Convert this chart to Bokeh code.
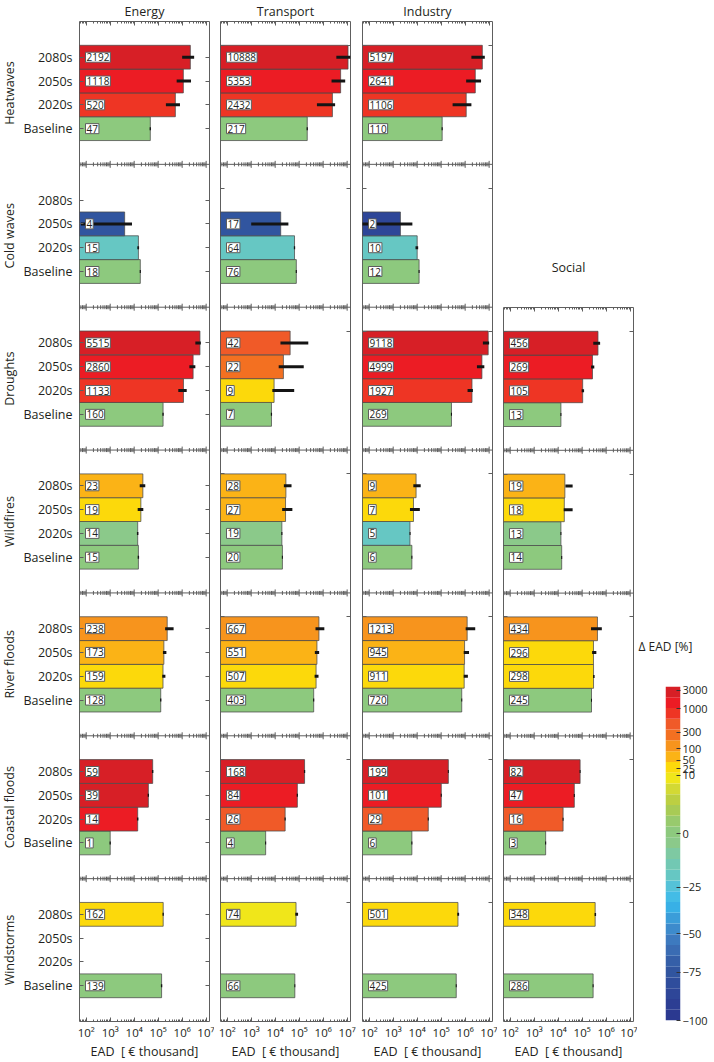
import math
import numpy as np
from bokeh.plotting import figure
from bokeh.models import (ColumnDataSource, FixedTicker, LinearAxis, LogAxis,
                          Range1d, Span, Spacer)
from bokeh.layouts import row, column
from bokeh.embed import file_html
from bokeh.resources import INLINE
from bokeh.core.properties import value
from bokeh.transform import linear_cmap

# ---------------- data ----------------
hazards = ["Heatwaves", "Cold waves", "Droughts", "Wildfires",
           "River floods", "Coastal floods", "Windstorms"]
social_hazards = ["Droughts", "Wildfires", "River floods", "Coastal floods", "Windstorms"]
periods = ["Baseline", "2020s", "2050s", "2080s"]
sectors = ["Energy", "Transport", "Industry", "Social"]
x_tick_values = [1e2, 1e3, 1e4, 1e5, 1e6, 1e7]
x_tick_labels = ["10\u00b2", "10\u00b3", "10\u2074", "10\u2075", "10\u2076", "10\u2077"]

# EAD (label values, € million) per hazard: Baseline, 2020s, 2050s, 2080s
energy_ead = [[47, 520, 1118, 2192], [18, 15, 4, None], [160, 1133, 2860, 5515],
              [15, 14, 19, 23], [128, 159, 173, 238], [1, 14, 39, 59],
              [139, None, None, 162]]
energy_lo = [[44, 210, 590, 1000], [17, 13.5, 0.06, None], [150, 690, 2000, 3550],
             [14, 13, 14, 17], [120, 148, 158, 195], [0.94, 13, 36.5, 55],
             [130, None, None, 152]]
energy_hi = [[50, 810, 2340, 3160], [19, 16, 8.1, None], [170, 1550, 3550, 6000],
             [16, 15, 24, 29], [136, 200, 220, 440], [1.06, 15, 41.5, 63],
             [148, None, None, 172]]

transport_ead = [[217, 2432, 5353, 10888], [76, 64, 17, None], [7, 9, 22, 42],
                 [20, 19, 27, 28], [403, 507, 551, 667], [4, 26, 84, 168],
                 [66, None, None, 74]]
transport_lo = [[204, 550, 2240, 3550], [72, 60, 1, None], [6.6, 7.6, 14, 16.6],
                [19, 18, 19.5, 23], [380, 440, 450, 480], [3.8, 24.5, 79, 158],
                [63, None, None, 69]]
transport_hi = [[230, 3150, 8300, 14000], [80, 68, 35.5, None], [7.4, 62, 155, 240],
                [21, 20, 52, 48], [425, 640, 680, 1120], [4.2, 27.5, 89, 178],
                [69, None, None, 90]]

industry_ead = [[110, 1106, 2641, 5197], [12, 10, 2, None], [269, 1927, 4999, 9118],
                [6, 5, 7, 9], [720, 911, 945, 1213], [6, 29, 101, 199],
                [425, None, None, 501]]
industry_lo = [[104, 300, 1100, 1820], [11.4, 8.5, 0.05, None], [255, 1260, 3100, 5500],
               [5.7, 4.8, 5, 6.9], [690, 870, 870, 1050], [5.7, 27.5, 96, 190],
               [405, None, None, 470]]
industry_hi = [[116, 1820, 4600, 6600], [12.6, 11, 6.3, None], [283, 2100, 6300, 10000],
               [6.3, 5.3, 12.9, 14], [755, 1300, 1450, 2630], [6.3, 30.5, 106, 208],
               [445, None, None, 560]]

social_ead = [[13, 105, 269, 456], [14, 13, 18, 19], [245, 298, 296, 434],
              [3, 16, 47, 82], [286, None, None, 348]]
social_lo = [[12.4, 95, 235, 290], [13.3, 12.4, 17, 20], [233, 285, 260, 234],
             [2.85, 15.2, 44.7, 78], [272, None, None, 330]]
social_hi = [[13.6, 120, 320, 560], [14.7, 13.6, 40, 40], [257, 330, 390, 660],
             [3.15, 16.8, 49.4, 86], [300, None, None, 380]]

# colour scale: Δ EAD [%] thresholds between the palette bands (bottom -> top)
scale_edges = [-94, -89, -83, -78, -71, -64, -57, -50, -44, -39, -33, -27, -22, -15,
               -12, -8, -2, 2, 4, 6, 8, 10, 15, 30, 58, 100, 300, 560, 1100, 2500]
palette = ["#2b3990", "#2c3e93", "#2e4698", "#2f4d9c", "#31559f", "#355fa8",
           "#3a6cb3", "#3d7abf", "#3d8bcc", "#3b9dd9", "#38b0e6", "#43bce6",
           "#55c2d8", "#66c7c3", "#72c8b3", "#7ec9a2", "#8bc98a", "#8dc97e",
           "#98ca6d", "#a8cb55", "#bccf42", "#d3d934", "#f0e61a", "#fcd90b",
           "#fbb316", "#f7941d", "#f37021", "#f05a28", "#ee3524", "#ec1c24",
           "#d71f26"]
# colorbar tick labels and their positions (in colour-band units from the bottom)
cb_labels = ["\u2212100", "\u221275", "\u221250", "\u221225", "0", "10", "25",
             "50", "100", "300", "1000", "3000"]
cb_positions = [0.0, 4.48, 8.05, 12.38, 17.33, 22.75, 23.37, 24.14, 25.23,
                26.77, 28.94, 30.64]

# ---------------- layout constants ----------------
FONT = "Open Sans"
TXT = "#231f20"
GRAY = "#5e5e5e"
LOGMIN, LOGMAX = 1.72, 7.14
XMIN, XMAX = 10 ** LOGMIN, 10 ** LOGMAX
FW = 130
FH_FULL = 1000
TOPB = 21
BOTB = 40
STRIP_W = 20
NB = len(palette)

minors = [m * 10.0 ** e for e in range(1, 8) for m in range(2, 10)
          if XMIN <= m * 10.0 ** e <= XMAX]


def band(delta):
    return int(np.digitize(delta, scale_edges)) + 0.5


def blank_axis_style(ax):
    ax.axis_line_color = None
    ax.major_label_text_font_size = "1px"
    ax.major_label_text_color = None
    ax.major_label_standoff = 0


def sector_figure(title, ead, lo, hi, haz, first, border_l, border_r, top_border,
                  title_standoff, title_valign):
    nh = len(haz)
    H = 6 * nh
    fh = round(FH_FULL * nh / 7)
    slot = fh / H
    p = figure(x_axis_type="log", x_range=Range1d(XMIN, XMAX), y_range=Range1d(0, H),
               frame_width=FW, frame_height=fh, min_border_top=top_border,
               min_border_bottom=BOTB, min_border_left=border_l, min_border_right=border_r,
               toolbar_location=None, output_backend="svg", title=title)
    p.grid.visible = False
    p.outline_line_color = GRAY
    p.outline_line_width = 1
    p.background_fill_color = "white"
    p.border_fill_color = "white"
    p.title.align = "center"
    p.title.vertical_align = title_valign
    p.title.standoff = title_standoff
    p.title.text_font = FONT
    p.title.text_font_size = "12.5px"
    p.title.text_font_style = "normal"
    p.title.text_color = TXT

    ticker = FixedTicker(ticks=x_tick_values, minor_ticks=minors)
    xa = p.xaxis[0]
    xa.ticker = ticker
    xa.major_label_overrides = dict(zip(x_tick_values, x_tick_labels))
    xa.axis_line_color = None
    xa.major_tick_in, xa.major_tick_out = 4, 0
    xa.minor_tick_in, xa.minor_tick_out = 2, 0
    xa.major_tick_line_color = GRAY
    xa.minor_tick_line_color = GRAY
    xa.major_label_text_font = FONT
    xa.major_label_text_font_size = "11.5px"
    xa.major_label_text_color = TXT
    xa.major_label_standoff = 3
    xa.axis_label = "EAD \u00a0[ \u20ac thousand]"
    xa.axis_label_text_font = FONT
    xa.axis_label_text_font_size = "12.5px"
    xa.axis_label_text_font_style = "normal"
    xa.axis_label_text_color = TXT
    xa.axis_label_standoff = 0
    top = LogAxis(ticker=ticker, major_tick_in=4, major_tick_out=0,
                  minor_tick_in=2, minor_tick_out=0, major_tick_line_color=GRAY,
                  minor_tick_line_color=GRAY,
                  major_label_overrides={t: "" for t in x_tick_values})
    blank_axis_style(top)
    p.add_layout(top, "above")

    period_ticks = [6 * (nh - 1 - k) + 1.5 + j for k in range(nh) for j in range(4)]
    ya = p.yaxis[0]
    ya.axis_line_color = None
    ya.minor_tick_line_color = None
    ya.major_tick_in, ya.major_tick_out = 4, 0
    ya.major_tick_line_color = GRAY
    if first:
        ya.ticker = FixedTicker(ticks=period_ticks)
        ya.major_label_overrides = {6 * (nh - 1 - k) + 1.5 + j: periods[j]
                                    for k in range(nh) for j in range(4)}
        ya.major_label_text_font = FONT
        ya.major_label_text_font_size = "12.5px"
        ya.major_label_text_color = TXT
        ya.major_label_standoff = 7
        right_ticks = period_ticks
    else:
        odd = [6 * (nh - 1 - k) + 5.0 for k in range(nh)]
        ya.ticker = FixedTicker(ticks=odd)
        ya.major_label_overrides = {t: "" for t in odd}
        blank_axis_style(ya)
        right_ticks = odd
    ra = LinearAxis(ticker=FixedTicker(ticks=right_ticks),
                    major_tick_in=4, major_tick_out=0, minor_tick_line_color=None,
                    major_tick_line_color=GRAY,
                    major_label_overrides={t: "" for t in right_ticks})
    blank_axis_style(ra)
    p.add_layout(ra, "right")

    # separators between hazards, with log ticks crossing them
    sx0, sy0, sy1 = [], [], []
    for k in range(1, nh):
        yk = 6 * k
        p.add_layout(Span(location=yk, dimension="width", line_color=GRAY, line_width=1))
        for t in x_tick_values:
            sx0.append(t); sy0.append(yk - 3.5 / slot); sy1.append(yk + 3.5 / slot)
        for t in minors:
            sx0.append(t); sy0.append(yk - 2.0 / slot); sy1.append(yk + 2.0 / slot)
    if sx0:
        p.segment(x0=sx0, y0=sy0, x1=sx0, y1=sy1, line_color=GRAY, line_width=1)

    # bars, error bars, value boxes
    ys, vals, los, his, cidx, txt = [], [], [], [], [], []
    for k in range(nh):
        base = 6 * (nh - 1 - k)
        b = ead[k][0]
        for j in range(4):
            v = ead[k][j]
            if v is None:
                continue
            ys.append(base + 1.5 + j)
            vals.append(v * 1000.0)
            los.append(lo[k][j] * 1000.0)
            his.append(hi[k][j] * 1000.0)
            cidx.append(band((v / b - 1) * 100))
            txt.append(str(v))
    src = ColumnDataSource(dict(y=ys, right=vals, lo=los, hi=his, c=cidx, t=txt))
    p.hbar(y="y", left=XMIN, right="right", height=1.0, source=src,
           fill_color=linear_cmap("c", palette, 0, NB), line_color="#4a4a4a",
           line_alpha=0.75, line_width=1)
    p.segment(x0="lo", y0="y", x1="hi", y1="y", source=src, line_color="#141414",
              line_width=3)
    p.text(x=XMIN, y="y", text="t", source=src, x_offset=6, text_font=value(FONT),
           text_font_size="10px", text_baseline="middle", text_align="left",
           text_color=TXT, background_fill_color="white", border_line_color=GRAY,
           border_line_width=1, padding=1)
    return p


# hazard names strip (left of the Energy column)
ps = figure(x_range=Range1d(0, 1), y_range=Range1d(0, 6 * len(hazards)),
            frame_width=STRIP_W, frame_height=FH_FULL, min_border_top=TOPB,
            min_border_bottom=BOTB, min_border_left=0, min_border_right=0,
            toolbar_location=None, output_backend="svg")
ps.grid.visible = False
ps.axis.visible = False
ps.outline_line_color = None
ps.text(x=[0.47] * len(hazards),
        y=[6 * (len(hazards) - 1 - k) + 3.0 for k in range(len(hazards))],
        text=hazards, angle=math.pi / 2, text_font=value(FONT), text_font_size="12.5px",
        text_color=TXT, text_align="center", text_baseline="middle")

p_energy = sector_figure(sectors[0], energy_ead, energy_lo, energy_hi, hazards, True,
                         79 - STRIP_W, 5, TOPB, 0, "top")
p_transport = sector_figure(sectors[1], transport_ead, transport_lo, transport_hi, hazards,
                            False, 6, 6, TOPB, 0, "top")
p_industry = sector_figure(sectors[2], industry_ead, industry_lo, industry_hi, hazards,
                           False, 6, 5, TOPB, 0, "top")
SOC_FH = round(FH_FULL * 5 / 7)
SOC_TOP = 84
p_social = sector_figure(sectors[3], social_ead, social_lo, social_hi, social_hazards,
                         False, 6, 4, SOC_TOP, 61, "middle")
soc_col = column(Spacer(height=TOPB + FH_FULL - SOC_FH - SOC_TOP, width=140), p_social)

# ---------------- colorbar ----------------
CB_H = 334
CB_TOP = 84
CB_BOTTOM = TOPB + FH_FULL - 1   # page y of colorbar bottom
pc = figure(x_range=Range1d(0, 1), y_range=Range1d(0, NB), frame_width=15, frame_height=CB_H,
            min_border_top=CB_TOP, min_border_bottom=TOPB + FH_FULL + BOTB - CB_BOTTOM,
            min_border_left=28, min_border_right=32, toolbar_location=None,
            output_backend="svg", title="\u0394 EAD [%]")
pc.grid.visible = False
pc.outline_line_color = None
pc.xaxis.visible = False
pc.yaxis.visible = False
pc.title.align = "left"
pc.title.offset = -27
pc.title.vertical_align = "middle"
pc.title.standoff = 61
pc.title.text_font = FONT
pc.title.text_font_size = "12px"
pc.title.text_font_style = "normal"
pc.title.text_color = TXT
cb_src = ColumnDataSource(dict(b=list(range(NB)), t=[i + 1 for i in range(NB)],
                               c=[i + 0.5 for i in range(NB)]))
pc.quad(left=0, right=1, bottom="b", top="t", source=cb_src,
        fill_color=linear_cmap("c", palette, 0, NB), line_color=None)
cax = LinearAxis(ticker=FixedTicker(ticks=cb_positions),
                 major_label_overrides={pos: lab for pos, lab in zip(cb_positions, cb_labels)},
                 axis_line_color=None, major_tick_in=4, major_tick_out=0,
                 minor_tick_line_color=None, major_tick_line_color="#333333",
                 major_label_text_font=FONT, major_label_text_font_size="11px",
                 major_label_text_color=TXT, major_label_standoff=2)
pc.add_layout(cax, "right")
cb_col = column(Spacer(height=CB_BOTTOM - CB_H - CB_TOP, width=75), pc)

layout = row(ps, p_energy, p_transport, p_industry, soc_col, cb_col)
open("out.html", "w").write(file_html(layout, INLINE))
